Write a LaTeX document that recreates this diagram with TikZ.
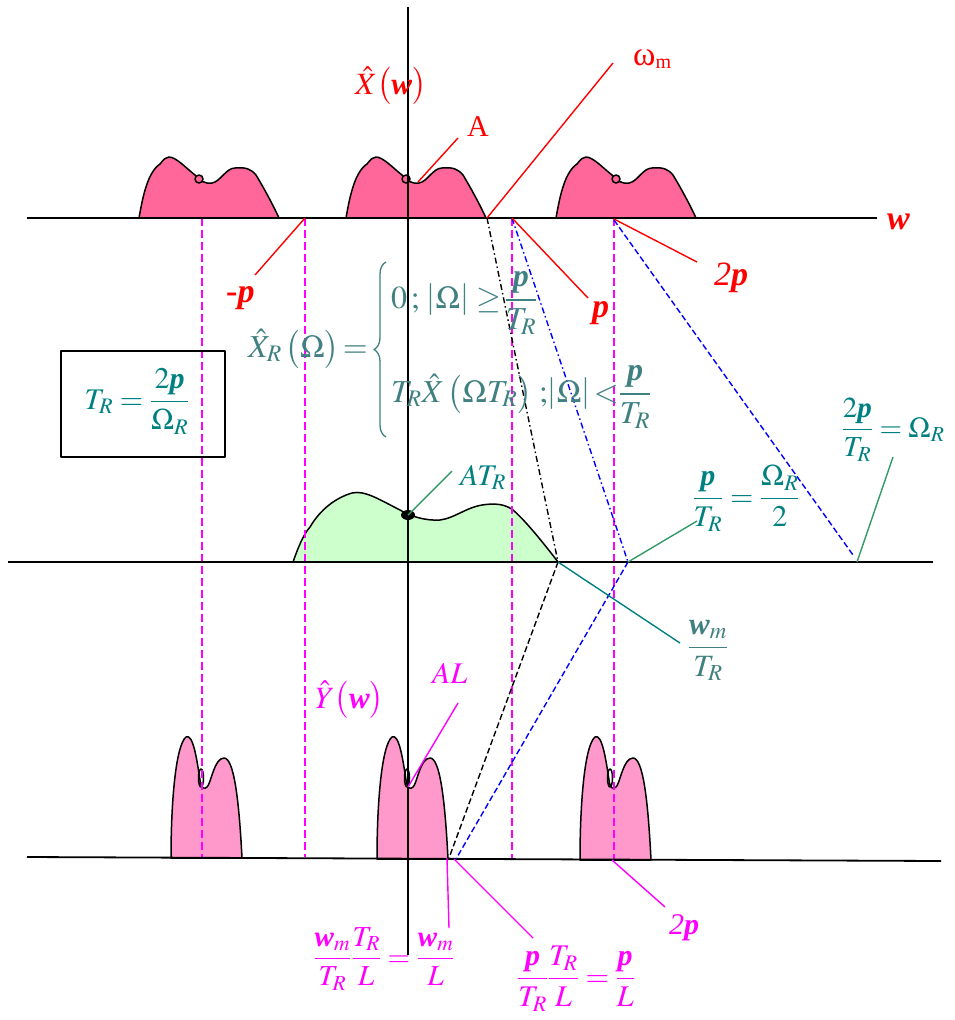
\documentclass[tikz,border=0pt]{standalone}
\usepackage{amsmath}
\usepackage{mathptmx}
\usepackage[no-math]{fontspec}
\setmainfont{Liberation Serif}
\usetikzlibrary{decorations.pathreplacing}
\definecolor{rred}{HTML}{FF0000}
\definecolor{tpink}{HTML}{FF6699}
\definecolor{bpink}{HTML}{FF99CC}
\definecolor{lgreen}{HTML}{CCFFCC}
\definecolor{mag}{HTML}{FF00FF}
\definecolor{tealg}{HTML}{408080}
\definecolor{teals}{HTML}{008080}
\definecolor{sgreen}{HTML}{339966}
\definecolor{bblue}{HTML}{0000FF}
\newcommand{\bp}{\textbf{\textit{p}}}
\newcommand{\bw}{\textbf{\textit{w}}}
\newcommand{\fsz}[1]{\fontsize{#1}{#1}\selectfont}
\begin{document}
\begin{tikzpicture}[x=1pt,y=-1pt,line join=round,
  axisln/.style={line width=1.8pt},
  humpln/.style={line width=1.5pt},
  redln/.style={rred,line width=1.4pt},
  magln/.style={mag,line width=1.4pt},
  magdash/.style={mag,line width=1.5pt,dash pattern=on 8pt off 4pt},
  bluedd/.style={bblue,line width=1.4pt,dash pattern=on 6pt off 3pt on 1.5pt off 3pt},
  bluedash/.style={bblue,line width=1.4pt,dash pattern=on 6pt off 3pt},
  blackdd/.style={black,line width=1.4pt,dash pattern=on 6pt off 3pt on 1.5pt off 3pt},
  blackdash/.style={black,line width=1.4pt,dash pattern=on 6pt off 3pt},
  grnln/.style={sgreen,line width=1.4pt},
  tealln/.style={teals,line width=1.4pt},
  lab/.style={inner sep=0pt,anchor=base west},
  labc/.style={inner sep=0pt,anchor=base},
  boxst/.style={draw,line width=1.5pt,minimum width=164pt,minimum height=106pt,inner sep=0pt}]
\useasboundingbox (0,0) rectangle (955,1020);

% ---- top humps
\foreach \c in {200,407,617}{
  \filldraw[humpln,fill=tpink] ({\c-61},218) .. controls ({\c-57},195) and ({\c-52},172) .. ({\c-40},164)
    .. controls ({\c-36},159) and ({\c-34},157) .. ({\c-31},157)
    .. controls ({\c-24},157) and ({\c-14},168) .. ({\c-5},175)
    .. controls ({\c},181) and ({\c+5},184) .. ({\c+12},183)
    .. controls ({\c+20},182) and ({\c+26},168) .. ({\c+35},168)
    .. controls ({\c+46},167) and ({\c+51},169) .. ({\c+56},175)
    .. controls ({\c+65},190) and ({\c+73},205) .. ({\c+79},218) -- cycle;
  \filldraw[humpln,fill=tpink] ({\c-1},179) circle[radius=4];
}
% ---- middle hump
\filldraw[humpln,fill=lgreen] (293,562) .. controls (298,548) and (303,535) .. (310,527)
  .. controls (320,510) and (335,498) .. (352,493)
  .. controls (365,490) and (380,500) .. (400,510)
  .. controls (410,516) and (425,521) .. (440,520)
  .. controls (455,518) and (465,508) .. (482,505)
  .. controls (495,503) and (505,504) .. (513,510)
  .. controls (525,520) and (545,545) .. (558,562) -- cycle;
% ---- bottom humps
\foreach \c/\b in {201/858,407/859,610/860}{
  \filldraw[humpln,fill=bpink] ({\c-30},\b) .. controls ({\c-30},800) and ({\c-25},745) .. ({\c-15},737)
    .. controls ({\c-8},733) and ({\c-4},760) .. ({\c-1},780)
    .. controls ({\c},788) and ({\c+3},790) .. ({\c+6},787)
    .. controls ({\c+10},784) and ({\c+13},758) .. ({\c+23},758)
    .. controls ({\c+33},758) and ({\c+38},800) .. ({\c+41},\b) -- cycle;
  \draw[humpln] (\c,778) ellipse[x radius=2.5,y radius=9];
}

% ---- key points
\coordinate (wmT) at (487,218);
\coordinate (mpT) at (305,218);
\coordinate (pT) at (512,218);
\coordinate (tpT) at (614,218);
\coordinate (hpT) at (202,218);
\coordinate (mpB) at (305,857);
\coordinate (pB) at (512,858);
\coordinate (tpB) at (614,859);
\coordinate (hpB) at (202,857);
\coordinate (wmM) at (558,562);
\coordinate (pM) at (628,562);
\coordinate (tpM) at (857,562);
\coordinate (tpMe) at (853,555);
\coordinate (wmB) at (449,858);
\coordinate (pBB) at (456,859);

% ---- magenta dashed verticals
\draw[magdash] (hpT) -- (hpB);
\draw[magdash] (mpT) -- (mpB);
\draw[magdash] (pT) -- (pB);
\draw[magdash] (tpT) -- (tpB);

% ---- axes
\draw[axisln] (27,218) coordinate (ax1l) -- (877,218) coordinate (ax1r);
\draw[axisln] (8,562) coordinate (ax2l) -- (933,562) coordinate (ax2r);
\draw[axisln] (27,857) coordinate (ax3l) -- (941,861) coordinate (ax3r);
\draw[axisln] (408,7) coordinate (vt) -- (408,955) coordinate (vb);

% ---- mapping lines
\draw[blackdd] (wmT) -- (wmM);
\draw[blackdash] (wmM) -- (wmB);
\draw[bluedd] (pT) -- (pM);
\draw[bluedash] (pM) -- (pBB);
\draw[bluedash] (614,220) -- (tpMe);

% ---- dots
\fill (408,515) coordinate (ATd) ellipse[x radius=7,y radius=5];
\coordinate (Ad) at (418,182);
\coordinate (ALd) at (408,787);

% ---- label connectors
\coordinate (wmE) at (613,63);
\coordinate (AE) at (458,138);
\coordinate (mpE) at (255,275);
\coordinate (pE) at (588,298);
\coordinate (tpE) at (697,262);
\coordinate (ATE) at (452,471);
\coordinate (pME) at (697,521);
\coordinate (tpME) at (893,457);
\coordinate (wmME) at (680,643);
\coordinate (ALE) at (458,703);
\coordinate (wmBE) at (449,928);
\coordinate (pBE) at (533,938);
\coordinate (tpBE) at (665,907);
\coordinate (wmBs) at (447,858);
\coordinate (pBs) at (454,859);
\coordinate (tpBs) at (612,860);

\draw[redln] (wmT) -- (wmE);
\draw[redln] (Ad) -- (AE);
\draw[redln] (mpT) -- (mpE);
\draw[redln] (pT) -- (pE);
\draw[redln] (614,219) -- (tpE);
\draw[grnln] (ATd) -- (ATE);
\draw[grnln] (pM) -- (pME);
\draw[grnln] (tpM) -- (tpME);
\draw[tealln] (wmM) -- (wmME);
\draw[magln] (ALd) -- (ALE);
\draw[magln] (wmBs) -- (wmBE);
\draw[magln] (pBs) -- (pBE);
\draw[magln] (tpBs) -- (tpBE);

% ---- red labels
\node[lab,text=rred,font=\fsz{31}] (lXw) at (355,94) {$\hat{X}\bigl(\bw\bigr)$};
\node[lab,text=rred,font=\fsz{30}] (lA) at (467,136) {A};
\node[lab,text=rred,font=\fsz{34}] (lwm) at (633,65) {ω\raisebox{-0.25ex}{\fsz{20}m}};
\node[lab,text=rred,font=\fsz{34}] (lw) at (887,229) {\bw};
\node[lab,text=rred,font=\fsz{34}] (lmp) at (226,302) {\textbf{-}\bp};
\node[lab,text=rred,font=\fsz{34}] (lp) at (592,317) {\bp};
\node[lab,text=rred,font=\fsz{34}] (ltp) at (714,285) {\textit{2}\bp};

% ---- teal formula
\node[lab,text=tealg,font=\fsz{32}] (formL) at (248,357) {$\hat{X}_R\,\bigl(\Omega\bigr)\,{=}$};
\draw[tealg,line width=1.3pt,decorate,decoration={brace,amplitude=12pt,aspect=0.5}] (386,437) coordinate (brB) -- (386,262) coordinate (brT);
\node[lab,text=tealg,font=\fsz{32}] (formA) at (391,308) {$0\,;\,\left|\Omega\right|\,{\ge}\,\dfrac{\bp}{T_R}$};
\node[lab,text=tealg,font=\fsz{32}] (formB) at (391,402) {$T_R\hat{X}\,\bigl(\Omega T_R\bigr)\;;\!\left|\Omega\right|{<}\dfrac{\bp}{T_R}$};

% ---- box
\node[boxst] (box) at (143,404) {};
\node[labc,text=teals,font=\fsz{30}] (boxf) at (137,409) {$T_R=\dfrac{2\bp}{\Omega_R}$};

% ---- middle labels
\node[lab,text=teals,font=\fsz{30}] (lAT) at (460,485) {$AT_R$};
\node[labc,text=teals,font=\fsz{30}] (lpM) at (746,506) {$\dfrac{\bp}{T_R}=\dfrac{\Omega_R}{2}$};
\node[labc,text=teals,font=\fsz{29}] (ltpM) at (893,437) {$\dfrac{2\bp}{T_R}=\Omega_R$};
\node[labc,text=tealg,font=\fsz{31}] (lwmM) at (708,655) {$\dfrac{\bw_m}{T_R}$};

% ---- bottom labels
\node[lab,text=mag,font=\fsz{31}] (lY) at (315,708) {$\hat{Y}\bigl(\bw\bigr)$};
\node[lab,text=mag,font=\fsz{30}] (lAL) at (432,683) {$AL$};
\node[labc,text=mag,font=\fsz{29}] (lwmB) at (384,966) {$\dfrac{\bw_m}{T_R}\dfrac{T_R}{L}=\dfrac{\bw_m}{L}$};
\node[labc,text=mag,font=\fsz{30}] (lpB) at (576,986) {$\dfrac{\bp}{T_R}\dfrac{T_R}{L}=\dfrac{\bp}{L}$};
\node[lab,text=mag,font=\fsz{30}] (ltpB) at (669,934) {\textit{2}\bp};
\end{tikzpicture}
\end{document}
